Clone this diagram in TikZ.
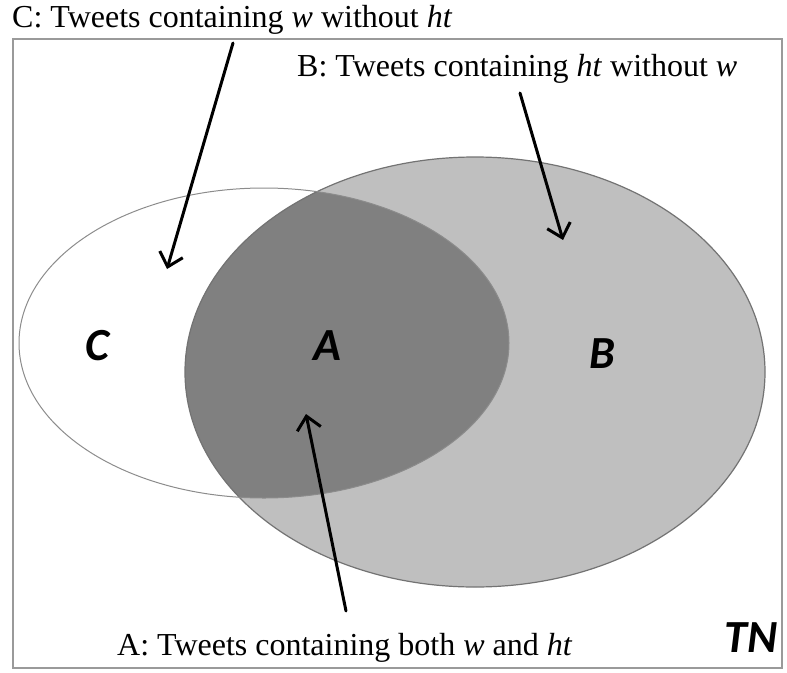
\documentclass[tikz,border=0pt]{standalone}
\usepackage{fontspec}
\setmainfont{Liberation Serif}
\newfontfamily\labfont{Carlito}
\usetikzlibrary{arrows.meta}
\definecolor{frameC}{HTML}{9A9A9A}
\definecolor{lightB}{HTML}{BFBFBF}
\definecolor{darkA}{HTML}{808080}
\definecolor{edgeB}{HTML}{737373}
\definecolor{edgeC}{HTML}{8C8C8C}
\begin{document}
\begin{tikzpicture}[x=1pt,y=-1pt,
  frame/.style={draw=frameC, line width=2pt},
  txt/.style={font=\fontsize{32}{36}\selectfont, inner sep=0pt, anchor=base west},
  setlbl/.style={font=\labfont\bfseries\itshape\fontsize{46}{50}\selectfont, inner sep=0pt, anchor=base},
  arr/.style={line width=3pt, line cap=round, -{Straight Barb[length=13pt,width=24pt,line width=3pt]}}]
\useasboundingbox (0,0) rectangle (787,672);
\draw[frame] (13,39) rectangle (782,668);
% set B
\fill[lightB] (475,372) ellipse [x radius=290, y radius=215];
% intersection A
\begin{scope}
  \clip (264,343) ellipse [x radius=245, y radius=155];
  \fill[darkA] (475,372) ellipse [x radius=290, y radius=215];
\end{scope}
\draw[edgeB, line width=1.2pt] (475,372) ellipse [x radius=290, y radius=215];
\draw[edgeC, line width=1pt] (264,343) ellipse [x radius=245, y radius=155];
% set labels
\node[setlbl] (lC) at (97,360) {C};
\node[setlbl] (lA) at (327,360) {A};
\node[setlbl] (lB) at (602,368) {B};
\node[setlbl] (lTN) at (751,652) {TN};
% descriptions
\node[txt] (tC) at (12,27) {C: Tweets containing \textit{w} without \textit{ht}};
\node[txt] (tB) at (297,76) {B: Tweets containing \textit{ht} without \textit{w}};
\node[txt] (tA) at (117,655) {A: Tweets containing both \textit{w} and \textit{ht}};
% arrow endpoints
\coordinate (cS) at (233,43);
\coordinate (cE) at (167,269);
\coordinate (bS) at (520,93);
\coordinate (bE) at (563,240);
\coordinate (aS) at (346,611);
\coordinate (aE) at (306,414);
\draw[arr] (cS) -- (cE);
\draw[arr] (bS) -- (bE);
\draw[arr] (aS) -- (aE);
\end{tikzpicture}
\end{document}
